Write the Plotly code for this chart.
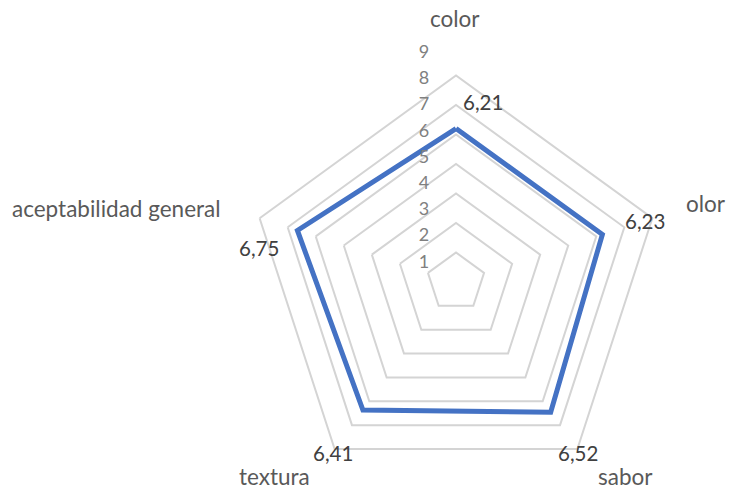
import plotly.graph_objects as go

# ---- data ----
categories = ["color", "olor", "sabor", "textura", "aceptabilidad general"]
values = [6.21, 6.23, 6.52, 6.41, 6.75]
axis_ticks = [1, 2, 3, 4, 5, 6, 7, 8, 9]

value_text = [f"{v:.2f}".replace(".", ",") for v in values]

# ---- layout constants ----
W, H = 729, 491
GRID_STEP = 1.194      # spacing of the pentagon rings (data units)
N_RINGS = 7
RADIAL_MAX = 8.46
BLUE = "#4472C4"
GRID = "#D4D4D4"
FONT = "Lato"

# label anchor positions in pixels (x, y)
cat_pos = [(454.5, 18.6), (706.2, 203.6), (625.3, 476.0), (274.5, 476.0), (116.3, 208.0)]
val_pos = [(483.4, 101.7), (645.0, 221.3), (577.5, 452.8), (332.5, 452.8), (258.5, 248.0)]


def paper(x, y):
    return x / W, 1 - y / H


fig = go.Figure()
fig.add_trace(go.Scatterpolar(
    r=values + values[:1], theta=categories + categories[:1],
    mode="lines", line=dict(color=BLUE, width=5),
    subplot="polar", hoverinfo="skip", showlegend=False))
fig.add_trace(go.Scatterpolar(r=[], theta=[], mode="lines", subplot="polar2",
                              hoverinfo="skip", showlegend=False))

annotations = []
for txt, (x, y) in zip(categories, cat_pos):
    px_, py_ = paper(x, y)
    annotations.append(dict(text=txt, x=px_, y=py_, xref="paper", yref="paper",
                            xanchor="center", yanchor="middle", showarrow=False,
                            font=dict(family=FONT, size=22.5, color="#595959")))
for txt, (x, y) in zip(value_text, val_pos):
    px_, py_ = paper(x, y)
    annotations.append(dict(text=txt, x=px_, y=py_, xref="paper", yref="paper",
                            xanchor="center", yanchor="middle", showarrow=False,
                            font=dict(family=FONT, size=20.5, color="#404040")))

fig.update_layout(
    width=W, height=H,
    margin=dict(l=0, r=0, t=0, b=0),
    paper_bgcolor="white",
    showlegend=False,
    font=dict(family=FONT),
    annotations=annotations,
    polar=dict(
        domain=dict(x=[247 / W, 665 / W], y=[0, 418 / H]),
        bgcolor="white",
        gridshape="linear",
        radialaxis=dict(range=[0, RADIAL_MAX],
                        tickvals=[GRID_STEP * n for n in range(1, N_RINGS + 1)],
                        showticklabels=False, ticks="", showline=False,
                        gridcolor=GRID, gridwidth=1.6),
        angularaxis=dict(type="category", categoryarray=categories,
                         rotation=90, direction="clockwise",
                         showgrid=False, showline=False,
                         showticklabels=False, ticks=""),
    ),
    polar2=dict(
        domain=dict(x=[246 / W, 666 / W], y=[1 - 472 / H, 1 - 52 / H]),
        bgcolor="rgba(0,0,0,0)",
        radialaxis=dict(range=[0.99, 9.01], angle=90, side="counterclockwise",
                        tickvals=axis_ticks, tickangle=90,
                        showgrid=False, showline=False,
                        ticks="outside", ticklen=20, tickcolor="rgba(0,0,0,0)",
                        tickfont=dict(family=FONT, size=18, color="#808080")),
        angularaxis=dict(visible=False),
    ),
)

fig.write_html("out.html")
